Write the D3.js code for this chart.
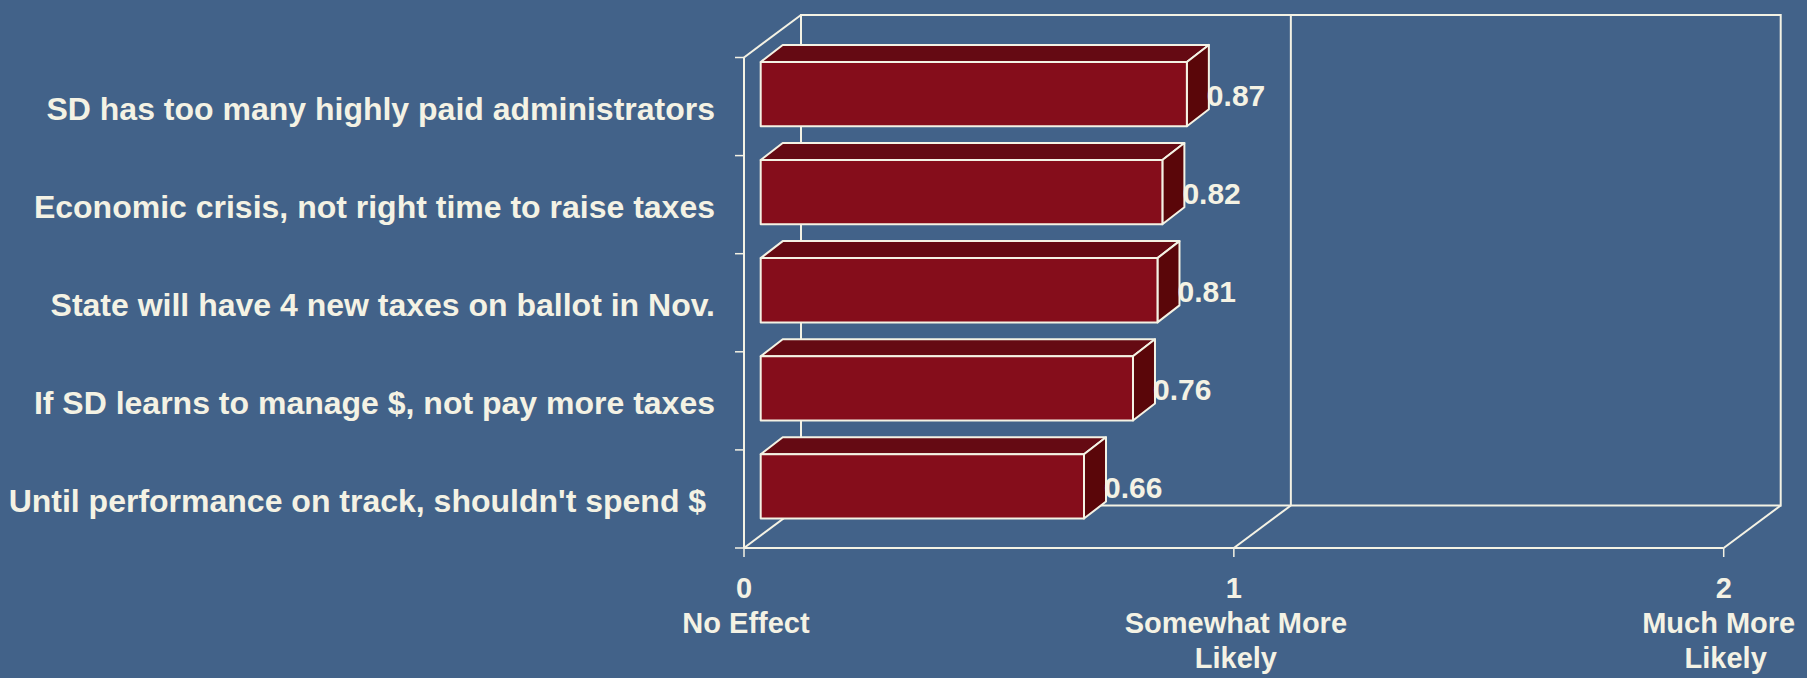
<!DOCTYPE html>
<html>
<head>
<meta charset="utf-8">
<script src="https://cdn.jsdelivr.net/npm/d3@7"></script>
<style>
  html, body { margin: 0; padding: 0; background: #426289; }
  svg { display: block; }
  text { font-family: "Liberation Sans", Arial, sans-serif; font-weight: bold; fill: #F4F2E4; }
</style>
</head>
<body>
<svg id="chart" width="1807" height="678"></svg>
<script>
const categories = [
  "SD has too many highly paid administrators",
  "Economic crisis, not right time to raise taxes",
  "State will have 4 new taxes on ballot in Nov.",
  "If SD learns to manage $, not pay more taxes",
  "Until performance on track, shouldn't spend $\u00a0"
];
const values = [0.87, 0.82, 0.81, 0.76, 0.66];
const valueLabels = ["0.87", "0.82", "0.81", "0.76", "0.66"];
const tickValues = [0, 1, 2];
const tickLabels = [["0", "No Effect"], ["1", "Somewhat More", "Likely"], ["2", "Much More", "Likely"]];

(function () {
const W = 1807, H = 678;
const cream = "#F4F2E4";
const svg = d3.select("#chart");
svg.append("rect").attr("width", W).attr("height", H).attr("fill", "#426289");

// front plane
const pL = 744, pR = 1723.7, pT = 57.5, pB = 548;
const depth = { x: 57, y: -42.5 };
const barFront = { x: 16.7, y: -12.5 };
const barDepth = { x: 22, y: -17 };

const x = d3.scaleLinear().domain([0, 2]).range([pL, pR]);
const y = d3.scaleBand().domain(categories).range([pT, pB]).paddingInner(0.345).paddingOuter(0.1725);

const frame = svg.append("g").attr("stroke", cream).attr("stroke-width", 2).attr("fill", "none");
// back wall
frame.append("rect")
  .attr("x", pL + depth.x).attr("y", pT + depth.y)
  .attr("width", pR - pL).attr("height", pB - pT);
// back wall gridlines
tickValues.slice(1, -1).forEach(t => {
  frame.append("line")
    .attr("x1", x(t) + depth.x).attr("x2", x(t) + depth.x)
    .attr("y1", pT + depth.y).attr("y2", pB + depth.y);
});
// left wall
frame.append("line").attr("x1", pL).attr("y1", pT).attr("x2", pL + depth.x).attr("y2", pT + depth.y);
frame.append("line").attr("x1", pL).attr("y1", pT).attr("x2", pL).attr("y2", pB);
// floor
frame.append("line").attr("x1", pL).attr("y1", pB).attr("x2", pR).attr("y2", pB);
tickValues.forEach(t => {
  frame.append("line")
    .attr("x1", x(t)).attr("y1", pB)
    .attr("x2", x(t) + depth.x).attr("y2", pB + depth.y);
  frame.append("line")
    .attr("x1", x(t)).attr("x2", x(t))
    .attr("y1", pB).attr("y2", pB + 9)
    .attr("stroke-width", 1.5);
});
// left ticks at band boundaries
const step = y.step();
d3.range(categories.length + 1).forEach(i => {
  const yy = pT + i * step;
  frame.append("line").attr("x1", pL - 9).attr("x2", pL).attr("y1", yy).attr("y2", yy).attr("stroke-width", 1.5);
});

// bars
const bars = svg.append("g");
categories.forEach((c, i) => {
  const x0 = x(0) + barFront.x, x1 = x(values[i]) + barFront.x;
  const y0 = y(c) + barFront.y, y1 = y0 + y.bandwidth();
  const dx = barDepth.x, dy = barDepth.y;
  const g = bars.append("g").attr("stroke", cream).attr("stroke-width", 2).attr("stroke-linejoin", "round");
  g.append("polygon")
    .attr("points", [[x0, y0], [x0 + dx, y0 + dy], [x1 + dx, y0 + dy], [x1, y0]].join(" "))
    .attr("fill", "#650A13");
  g.append("polygon")
    .attr("points", [[x1, y0], [x1 + dx, y0 + dy], [x1 + dx, y1 + dy], [x1, y1]].join(" "))
    .attr("fill", "#5A0609");
  g.append("rect")
    .attr("x", x0).attr("y", y0).attr("width", x1 - x0).attr("height", y1 - y0)
    .attr("fill", "#850D1B");
  svg.append("text")
    .attr("x", x1 + dx - 2).attr("y", (y0 + y1) / 2 + 11.5)
    .attr("font-size", 30)
    .text(valueLabels[i]);
});

// category labels
svg.append("g").selectAll("text").data(categories).join("text")
  .attr("x", 715)
  .attr("y", d => y(d) + y.bandwidth() / 2 + 13.5)
  .attr("text-anchor", "end")
  .attr("font-size", 32)
  .text(d => d);

// tick labels
const tl = svg.append("g");
tickValues.forEach((t, i) => {
  const txt = tl.append("text").attr("text-anchor", "middle").attr("font-size", 29);
  tickLabels[i].forEach((line, j) => {
    const off = j === 0 ? 0 : (i === 2 && j === 1 ? -5 : 2);
    txt.append("tspan").attr("x", x(t) + off).attr("y", 598 + j * 35).text(line);
  });
});
})();
</script>
</body>
</html>
